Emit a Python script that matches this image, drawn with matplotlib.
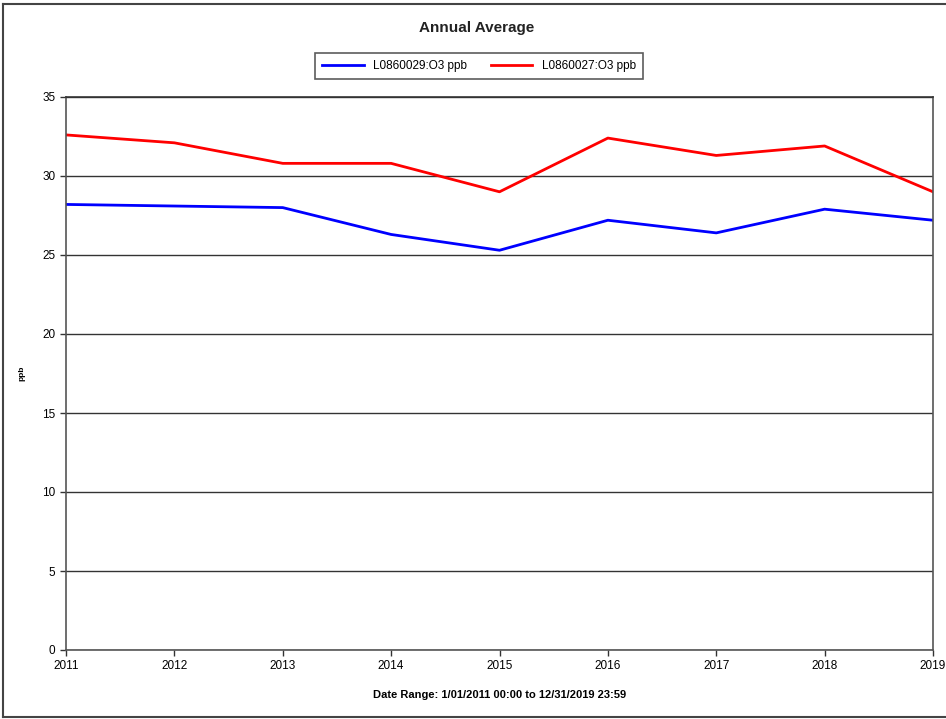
import matplotlib
matplotlib.use("Agg")
import matplotlib.pyplot as plt
from matplotlib.lines import Line2D

plt.rcParams['font.family'] = ['Liberation Sans', 'DejaVu Sans']

# === Data ===
years = [2011, 2012, 2013, 2014, 2015, 2016, 2017, 2018, 2019]
site_0029 = [28.2, 28.1, 28.0, 26.3, 25.3, 27.2, 26.4, 27.9, 27.2]
site_0027 = [32.6, 32.1, 30.8, 30.8, 29.0, 32.4, 31.3, 31.9, 29.0]
y_ticks = [0, 5, 10, 15, 20, 25, 30, 35]

# === Figure ===
fig = plt.figure(figsize=(9.46, 7.19), dpi=100)
ax = fig.add_axes([66 / 946, 69 / 719, 867 / 946, 553 / 719])

ax.plot(years, site_0029, color='#0000ff', lw=2, label='L0860029:O3 ppb')
ax.plot(years, site_0027, color='#ff0000', lw=2, label='L0860027:O3 ppb')

ax.set_xlim(2011, 2019)
ax.set_ylim(0, 35)
ax.set_xticks(years)
ax.set_yticks(y_ticks)
ax.tick_params(labelsize=8.5, length=4, color='#333333', width=1)
ax.tick_params(axis='x', pad=3)
ax.grid(axis='y', color='#333333', lw=1)
ax.set_axisbelow(True)
for s in ax.spines.values():
    s.set_color('#555555')
    s.set_linewidth(1.2)
ax.spines['top'].set_color('#333333')

ax.set_ylabel('ppb', fontsize=6, fontweight='bold', labelpad=12)
ax.set_xlabel('Date Range: 1/01/2011 00:00 to 12/31/2019 23:59',
              fontsize=8, fontweight='bold', labelpad=13)
fig.text(477 / 946, 1 - 28 / 719, 'Annual Average', ha='center', va='center',
         fontsize=11, fontweight='bold', color='#222222')

leg = fig.legend(loc='center', bbox_to_anchor=(479 / 946, 1 - 66 / 719), ncol=2,
                 fontsize=8.5, frameon=True, fancybox=False, edgecolor='#333333',
                 handlelength=3.5, columnspacing=2.0, borderpad=0.6)
leg.get_frame().set_linewidth(1.2)

# === Outer frame ===
fig.add_artist(Line2D([3 / 946, 3 / 946], [2 / 719, 1 - 4 / 719], color='#444444', lw=1.5))
fig.add_artist(Line2D([3 / 946, 1], [1 - 4 / 719, 1 - 4 / 719], color='#444444', lw=1.5))
fig.add_artist(Line2D([3 / 946, 1], [2 / 719, 2 / 719], color='#444444', lw=1.5))

fig.savefig('out.png', dpi=100)
